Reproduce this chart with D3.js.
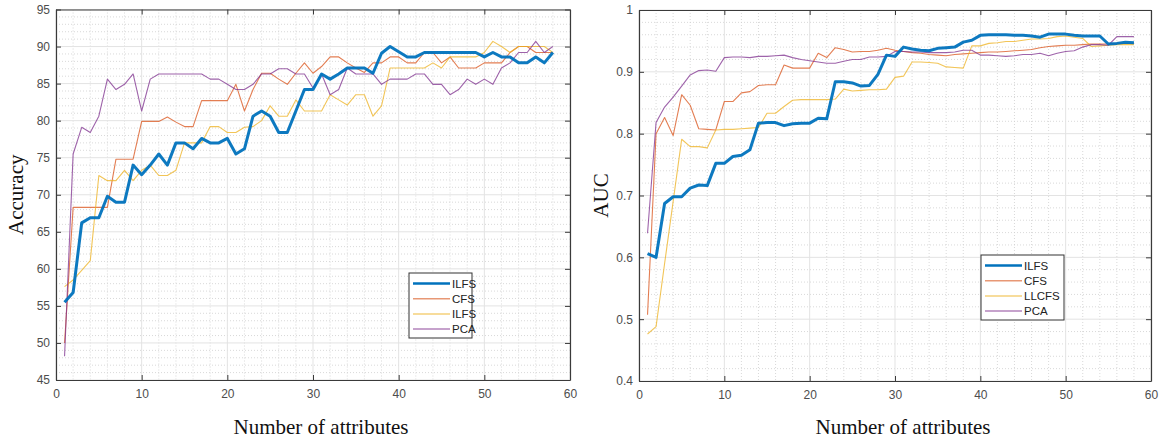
<!DOCTYPE html>
<html>
<head>
<meta charset="utf-8">
<script src="https://cdn.jsdelivr.net/npm/d3@7"></script>
<style>
  body { margin: 0; background: #fff; }
  .tick text { font-family: "Liberation Sans", Arial, sans-serif; font-size: 12px; fill: #4d4d4d; }
  .axis path, .axis line { stroke: #3a3a3a; }
  .axlabel { font-family: "Liberation Serif", "Times New Roman", serif; font-size: 21px; fill: #111; }
  .legend text { font-family: "Liberation Sans", Arial, sans-serif; font-size: 11.5px; fill: #222; }
</style>
</head>
<body>
<svg width="1167" height="441"></svg>
<script>
// number of attributes (x)
const attrs = [1,2,3,4,5,6,7,8,9,10,11,12,13,14,15,16,17,18,19,20,21,22,23,24,25,26,27,28,29,30,
  31,32,33,34,35,36,37,38,39,40,41,42,43,44,45,46,47,48,49,50,51,52,53,54,55,56,57,58];

// left panel: accuracy
const accILFS = [55.5,56.8,66.2,66.9,66.9,69.8,69.0,69.0,74.0,72.7,74.0,75.5,74.0,77.0,77.0,76.2,77.6,77.0,77.0,77.6,
  75.5,76.2,80.6,81.3,80.6,78.4,78.4,81.3,84.2,84.2,86.3,85.6,86.3,87.1,87.1,87.1,86.4,89.1,90.0,89.3,
  88.6,88.6,89.2,89.2,89.2,89.2,89.2,89.2,89.2,88.6,89.2,88.6,88.6,87.8,87.8,88.6,87.8,89.2];
const accCFS = [50.0,68.3,68.3,68.3,68.3,68.3,74.8,74.8,74.8,79.9,79.9,79.9,80.5,79.8,79.2,79.2,82.7,82.7,82.7,82.7,
  84.9,81.3,84.2,86.4,86.4,85.6,84.9,86.4,87.8,86.4,87.3,88.6,88.6,87.8,87.1,86.5,87.8,87.8,88.6,88.6,
  87.8,87.8,89.2,89.2,87.8,88.6,87.1,87.1,87.1,87.8,87.8,87.8,89.2,90.0,90.0,89.2,89.2,89.2];
const accLLCFS = [57.6,58.5,59.8,61.1,72.6,71.9,71.9,73.3,71.9,73.3,74.0,72.6,72.6,73.3,77.0,77.0,77.0,79.2,79.2,78.4,
  78.4,79.1,79.2,80.0,82.0,80.6,80.6,82.8,81.3,81.3,81.3,83.5,82.8,82.1,83.5,83.5,80.6,82.0,87.1,87.1,
  87.1,87.1,87.1,87.8,87.1,88.6,88.6,88.6,88.6,89.2,90.7,90.0,89.2,90.0,90.0,90.0,90.0,89.2];
const accPCA = [48.2,75.5,79.1,78.4,80.6,85.6,84.2,84.9,86.3,81.3,85.6,86.3,86.3,86.3,86.3,86.3,86.3,85.6,85.6,84.9,
  84.2,84.2,84.9,86.3,86.3,87.0,87.0,86.3,86.3,84.4,86.3,83.5,84.2,87.1,86.3,86.3,86.3,84.9,85.6,85.6,
  85.6,86.3,86.3,84.9,84.9,83.5,84.2,85.6,84.9,85.6,84.9,87.1,87.8,89.2,89.2,90.7,89.2,90.0];

// right panel: AUC
const aucILFS = [0.606,0.600,0.687,0.698,0.698,0.712,0.717,0.716,0.752,0.752,0.763,0.765,0.774,0.817,0.818,0.818,0.813,0.816,0.817,0.817,
  0.825,0.824,0.884,0.884,0.882,0.877,0.878,0.896,0.927,0.925,0.940,0.937,0.935,0.934,0.938,0.939,0.940,0.948,0.951,0.959,
  0.960,0.960,0.960,0.959,0.959,0.958,0.956,0.961,0.961,0.961,0.959,0.958,0.958,0.958,0.945,0.946,0.948,0.947];
const aucCFS = [0.507,0.800,0.826,0.797,0.863,0.846,0.808,0.807,0.806,0.852,0.852,0.866,0.868,0.878,0.879,0.879,0.911,0.906,0.906,0.906,
  0.930,0.923,0.939,0.936,0.932,0.933,0.933,0.935,0.938,0.935,0.933,0.931,0.930,0.928,0.927,0.926,0.928,0.929,0.930,0.931,
  0.932,0.932,0.933,0.934,0.935,0.936,0.939,0.941,0.942,0.943,0.943,0.944,0.945,0.945,0.945,0.946,0.946,0.946];
const aucLLCFS = [0.476,0.488,0.590,0.690,0.791,0.779,0.779,0.777,0.806,0.807,0.807,0.808,0.809,0.810,0.833,0.833,0.844,0.854,0.855,0.855,
  0.855,0.855,0.856,0.872,0.869,0.870,0.871,0.871,0.872,0.891,0.893,0.916,0.916,0.915,0.914,0.908,0.907,0.906,0.942,0.942,
  0.946,0.947,0.949,0.949,0.951,0.953,0.953,0.954,0.957,0.958,0.956,0.954,0.941,0.942,0.943,0.944,0.944,0.944];
const aucPCA = [0.639,0.818,0.843,0.859,0.877,0.895,0.902,0.903,0.901,0.923,0.924,0.924,0.923,0.925,0.925,0.926,0.927,0.923,0.920,0.918,
  0.916,0.914,0.914,0.917,0.920,0.920,0.924,0.924,0.925,0.933,0.933,0.932,0.932,0.931,0.931,0.931,0.932,0.935,0.935,0.927,
  0.927,0.926,0.925,0.926,0.928,0.928,0.930,0.926,0.930,0.933,0.934,0.940,0.944,0.944,0.943,0.957,0.957,0.957];

// tick labels
const xTicks = [0,10,20,30,40,50,60];
const accTicks = [45,50,55,60,65,70,75,80,85,90,95];
const aucTicks = [0.4,0.5,0.6,0.7,0.8,0.9,1];

const leftNames = ['ILFS','CFS','ILFS','PCA'];
const rightNames = ['ILFS','CFS','LLCFS','PCA'];
const colors = ['#0072BD','#D95319','#EDB120','#7E2F8E'];
const widths = [3, 1.1, 1.1, 1.1];

const svg = d3.select('svg');
svg.append('rect').attr('width',1167).attr('height',441).attr('fill','#fff');

function drawPanel(p) {
    const x = d3.scaleLinear().domain([0,60]).range([p.left, p.right]);
    const y = d3.scaleLinear().domain(p.yDomain).range([p.bottom, p.top]);
    const g = svg.append('g');

    // minor grid (dotted)
    const xMinor = d3.range(0, 61, 2).filter(v => v % 10 !== 0);
    const yMinor = d3.range(Math.round(p.yDomain[0]/p.minor), Math.round(p.yDomain[1]/p.minor)+1)
        .map(i => +(i*p.minor).toFixed(4))
        .filter(v => !p.ticks.some(t => Math.abs(t - v) < 1e-6));
    g.selectAll('.xm').data(xMinor).enter().append('line')
        .attr('x1', d => x(d)).attr('x2', d => x(d)).attr('y1', p.top).attr('y2', p.bottom)
        .attr('stroke','#cfcfcf').attr('stroke-width',0.8).attr('stroke-dasharray','1,2');
    g.selectAll('.ym').data(yMinor).enter().append('line')
        .attr('y1', d => y(d)).attr('y2', d => y(d)).attr('x1', p.left).attr('x2', p.right)
        .attr('stroke','#cfcfcf').attr('stroke-width',0.8).attr('stroke-dasharray','1,2');
    // major grid
    g.selectAll('.xg').data(xTicks).enter().append('line')
        .attr('x1', d => x(d)).attr('x2', d => x(d)).attr('y1', p.top).attr('y2', p.bottom)
        .attr('stroke','#e3e3e3').attr('stroke-width',1);
    g.selectAll('.yg').data(p.ticks).enter().append('line')
        .attr('y1', d => y(d)).attr('y2', d => y(d)).attr('x1', p.left).attr('x2', p.right)
        .attr('stroke','#e3e3e3').attr('stroke-width',1);

    // series
    const line = d3.line().x((d,i) => x(attrs[i])).y(d => y(d));
    // thin lines first, thick blue on top
    [1,2,3,0].forEach(k => {
        g.append('path').datum(p.series[k])
            .attr('d', line)
            .attr('fill','none')
            .attr('stroke', colors[k])
            .attr('stroke-width', widths[k])
            .attr('stroke-opacity', k === 0 ? 0.95 : 0.75)
            .attr('stroke-linejoin','round');
    });

    // axes (box with inward ticks)
    g.append('g').attr('class','axis').attr('transform',`translate(0,${p.bottom})`)
        .call(d3.axisBottom(x).tickValues(xTicks).tickSize(-5).tickSizeOuter(0).tickPadding(9));
    g.append('g').attr('class','axis').attr('transform',`translate(0,${p.top})`)
        .call(d3.axisTop(x).tickValues(xTicks).tickSize(-5).tickSizeOuter(0).tickFormat(''));
    g.append('g').attr('class','axis').attr('transform',`translate(${p.left},0)`)
        .call(d3.axisLeft(y).tickValues(p.ticks).tickSize(-5).tickSizeOuter(0).tickPadding(6).tickFormat(d3.format('')));
    g.append('g').attr('class','axis').attr('transform',`translate(${p.right},0)`)
        .call(d3.axisRight(y).tickValues(p.ticks).tickSize(-5).tickSizeOuter(0).tickFormat(''));
    g.selectAll('.axis path').attr('stroke-width',1.2);

    // axis labels
    g.append('text').attr('class','axlabel')
        .attr('x', (p.left+p.right)/2 + 8).attr('y', 434)
        .attr('text-anchor','middle').text('Number of attributes');
    g.append('text').attr('class','axlabel')
        .attr('transform',`translate(${p.labelX},${(p.top+p.bottom)/2}) rotate(-90)`)
        .attr('text-anchor','middle').text(p.yLabel);

    // legend
    const lg = g.append('g').attr('class','legend').attr('transform',`translate(${p.legX},${p.legY})`);
    lg.append('rect').attr('width', p.legW).attr('height', 65)
        .attr('fill','#fff').attr('stroke','#333').attr('stroke-width',1);
    p.names.forEach((name, i) => {
        const cy = 10.5 + i*15.2;
        lg.append('line').attr('x1',4).attr('x2',4 + p.legLine).attr('y1',cy).attr('y2',cy)
            .attr('stroke',colors[i]).attr('stroke-width', i === 0 ? 2.5 : 1.5)
            .attr('stroke-opacity', i === 0 ? 1 : 0.6);
        lg.append('text').attr('x', 6 + p.legLine).attr('y', cy).attr('dy','0.36em').text(name);
    });
}

drawPanel({
    left: 56, right: 570, top: 9.5, bottom: 380,
    yDomain: [45,95], ticks: accTicks, minor: 1,
    series: [accILFS, accCFS, accLLCFS, accPCA],
    yLabel: 'Accuracy', labelX: 23,
    names: leftNames, legX: 409, legY: 273, legW: 63, legLine: 37
});
drawPanel({
    left: 639, right: 1151, top: 10, bottom: 381,
    yDomain: [0.4,1], ticks: aucTicks, minor: 0.02,
    series: [aucILFS, aucCFS, aucLLCFS, aucPCA],
    yLabel: 'AUC', labelX: 608,
    names: rightNames, legX: 981, legY: 255, legW: 83, legLine: 37
});
</script>
</body>
</html>
